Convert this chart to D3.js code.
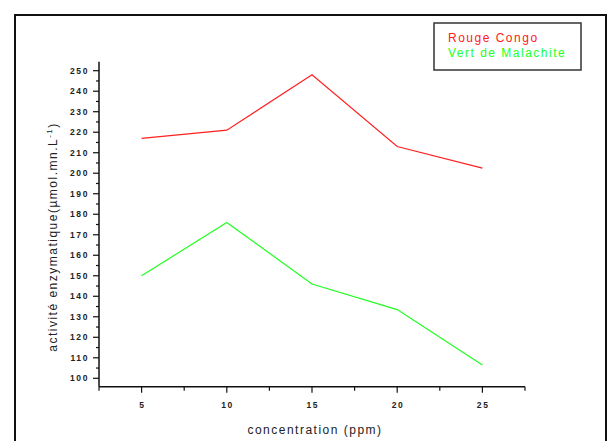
<!DOCTYPE html>
<html><head><meta charset="utf-8">
<script src="https://cdn.jsdelivr.net/npm/d3@7"></script>
<style>body{margin:0;background:#fff}svg{display:block}text{font-family:"Liberation Sans",Arial,sans-serif}</style>
</head><body>
<svg id="c" width="609" height="441"></svg>
<script>
const concentrations = [5, 10, 15, 20, 25];
const rougeCongo = [217, 221, 248, 213, 202.5];
const vertMalachite = [150, 176, 146, 133.5, 106.5];
const seriesNames = ["Rouge Congo", "Vert de Malachite"];
const seriesColors = ["#ff2020", "#20ff20"];
const xTicks = [5, 10, 15, 20, 25];
const yTicks = [100,110,120,130,140,150,160,170,180,190,200,210,220,230,240,250];

const svg = d3.select("#c");
svg.append("rect").attr("x",15).attr("y",15).attr("width",591).attr("height",440)
  .attr("fill","none").attr("stroke","#111").attr("stroke-width",2);

const x = d3.scaleLinear().domain([2.5, 27.5]).range([99, 525]);
const y = d3.scaleLinear().domain([100, 250]).range([378.3, 70.7]);
const yBottom = 386.7, yTop = 61.7;

const g = svg.append("g");
g.append("line").attr("x1",99).attr("x2",99).attr("y1",yTop).attr("y2",yBottom).attr("stroke","#111").attr("stroke-width",1.5);
g.append("line").attr("x1",99).attr("x2",525).attr("y1",yBottom).attr("y2",yBottom).attr("stroke","#111").attr("stroke-width",1.5);

const yMinor = d3.range(95, 256, 5).filter(v => y(v) >= yTop - 0.5 && y(v) <= yBottom);
g.selectAll(".ymin").data(yMinor).join("line")
  .attr("x1",99).attr("x2", d => d % 10 === 0 ? 93 : 96)
  .attr("y1", d => y(d)).attr("y2", d => y(d)).attr("stroke","#111").attr("stroke-width",1.2);
g.selectAll(".ylab").data(yTicks).join("text")
  .attr("x",89).attr("y", d => y(d)).attr("dy","0.35em").attr("text-anchor","end")
  .attr("font-size",8.5).attr("letter-spacing",1.6).attr("font-weight","bold").attr("fill","#222").text(d => d);

const xMinor = d3.range(2.5, 27.6, 2.5);
g.selectAll(".xmin").data(xMinor).join("line")
  .attr("x1", d => x(d)).attr("x2", d => x(d)).attr("y1", yBottom)
  .attr("y2", d => (d % 5 === 0) ? yBottom + 6 : yBottom + 4)
  .attr("stroke","#111").attr("stroke-width",1.2);
g.selectAll(".xlab").data(xTicks).join("text")
  .attr("x", d => x(d) + 0.8).attr("y", 408).attr("text-anchor","middle")
  .attr("font-size",8.5).attr("letter-spacing",1.6).attr("font-weight","bold").attr("fill","#222").text(d => d);

svg.append("text").attr("x", 315).attr("y", 434).attr("text-anchor","middle")
  .attr("font-size",12).attr("letter-spacing",1.5).attr("fill","#222").text("concentration (ppm)");
const yt = svg.append("text").attr("transform","translate(57,237) rotate(-90)")
  .attr("text-anchor","middle").attr("font-size",12).attr("letter-spacing",1.5).attr("fill","#222");
yt.append("tspan").text("activité enzymatique(µmol.mn.L");
yt.append("tspan").attr("font-size",8).attr("dy",-5).text("-1");
yt.append("tspan").attr("dy",5).text(")");

const line = d3.line().x((d,i) => x(concentrations[i])).y(d => y(d));
[rougeCongo, vertMalachite].forEach((s,i) => {
  svg.append("path").datum(s).attr("d", line).attr("fill","none")
    .attr("stroke", seriesColors[i]).attr("stroke-width",1.2);
});

svg.append("rect").attr("x",434).attr("y",23).attr("width",147).attr("height",47)
  .attr("fill","#fff").attr("stroke","#333").attr("stroke-width",1.5);
seriesNames.forEach((n,i) => {
  svg.append("text").attr("x",448).attr("y",42 + i*15).attr("font-size",12).attr("letter-spacing",1.5)
    .attr("fill", seriesColors[i]).text(n);
});
</script>
</body></html>
